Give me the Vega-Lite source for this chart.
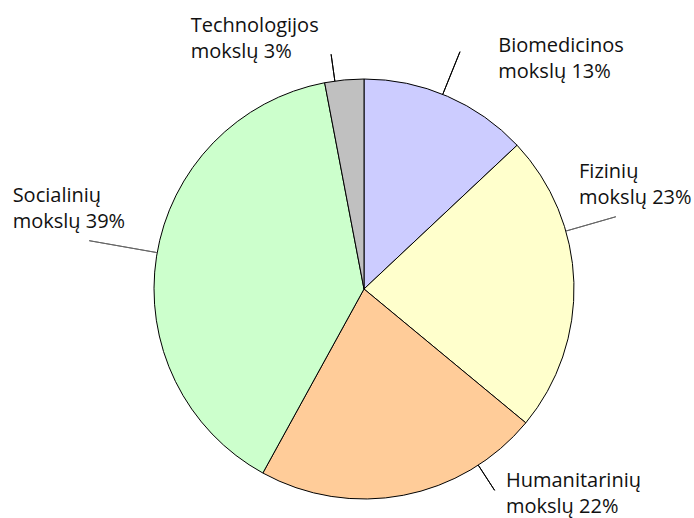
{
  "$schema": "https://vega.github.io/schema/vega-lite/v6.json",
  "width": 420,
  "height": 420,
  "autosize": {"type": "none"},
  "padding": {"left": 154, "top": 79, "right": 120, "bottom": 19},
  "background": "#ffffff",
  "config": {"view": {"stroke": null}},
  "data": {
    "values": [
      {"name": "Biomedicinos", "lines": ["Biomedicinos", "mokslų 13%"], "value": 13, "order": 1},
      {"name": "Fizinių", "lines": ["Fizinių", "mokslų 23%"], "value": 23, "order": 2},
      {"name": "Humanitarinių", "lines": ["Humanitarinių", "mokslų 22%"], "value": 22, "order": 3},
      {"name": "Socialinių", "lines": ["Socialinių", "mokslų 39%"], "value": 39, "order": 4},
      {"name": "Technologijos", "lines": ["Technologijos", "mokslų 3%"], "value": 3, "order": 5}
    ]
  },
  "encoding": {
    "theta": {"field": "value", "type": "quantitative", "stack": true},
    "order": {"field": "order", "type": "quantitative"}
  },
  "layer": [
    {
      "mark": {"type": "arc", "radius": 210, "stroke": "#000000", "strokeWidth": 1},
      "encoding": {
        "color": {
          "field": "name", "type": "nominal", "legend": null,
          "scale": {
            "domain": ["Biomedicinos", "Fizinių", "Humanitarinių", "Socialinių", "Technologijos"],
            "range": ["#ccccff", "#ffffcc", "#ffcc99", "#ccffcc", "#c0c0c0"]
          }
        }
      }
    },
    {
      "mark": {"type": "arc", "radius": 256, "radius2": 210, "padAngle": 3, "thetaOffset": -0.024, "theta2Offset": -0.024, "fillOpacity": 0, "strokeWidth": 1},
      "encoding": {"stroke": {"condition": {"test": "datum.name === 'Biomedicinos'", "value": "#000000"}, "value": "transparent"}}
    },
    {
      "mark": {"type": "arc", "radius": 262, "radius2": 210, "padAngle": 3, "thetaOffset": -0.248, "theta2Offset": -0.248, "fillOpacity": 0, "strokeWidth": 1},
      "encoding": {"stroke": {"condition": {"test": "datum.name === 'Fizinių'", "value": "#666666"}, "value": "transparent"}}
    },
    {
      "mark": {"type": "arc", "radius": 240, "radius2": 210, "padAngle": 3, "thetaOffset": -0.387, "theta2Offset": -0.387, "fillOpacity": 0, "strokeWidth": 1},
      "encoding": {"stroke": {"condition": {"test": "datum.name === 'Humanitarinių'", "value": "#000000"}, "value": "transparent"}}
    },
    {
      "mark": {"type": "arc", "radius": 279, "radius2": 210, "padAngle": 3, "thetaOffset": 0.017, "theta2Offset": 0.017, "fillOpacity": 0, "strokeWidth": 1},
      "encoding": {"stroke": {"condition": {"test": "datum.name === 'Socialinių'", "value": "#666666"}, "value": "transparent"}}
    },
    {
      "mark": {"type": "arc", "radius": 237, "radius2": 210, "padAngle": 3, "thetaOffset": -0.045, "theta2Offset": -0.045, "fillOpacity": 0, "strokeWidth": 1},
      "encoding": {"stroke": {"condition": {"test": "datum.name === 'Technologijos'", "value": "#000000"}, "value": "transparent"}}
    },
    {
      "mark": {"type": "text", "radius": 272, "thetaOffset": 0.108, "align": "left", "baseline": "alphabetic", "font": "Open Sans", "fontSize": 20, "lineHeight": 26, "fill": "#111111"},
      "encoding": {"text": {"condition": {"test": "datum.name === 'Biomedicinos'", "field": "lines"}, "value": ""}}
    },
    {
      "mark": {"type": "text", "radius": 242, "thetaOffset": -0.445, "align": "left", "baseline": "alphabetic", "font": "Open Sans", "fontSize": 20, "lineHeight": 26, "fill": "#111111"},
      "encoding": {"text": {"condition": {"test": "datum.name === 'Fizinių'", "field": "lines"}, "value": ""}}
    },
    {
      "mark": {"type": "text", "radius": 244, "thetaOffset": -0.4325, "align": "left", "baseline": "alphabetic", "font": "Open Sans", "fontSize": 20, "lineHeight": 26, "fill": "#111111"},
      "encoding": {"text": {"condition": {"test": "datum.name === 'Humanitarinių'", "field": "lines"}, "value": ""}}
    },
    {
      "mark": {"type": "text", "radius": 362, "thetaOffset": 0.086, "align": "left", "baseline": "alphabetic", "font": "Open Sans", "fontSize": 20, "lineHeight": 26, "fill": "#111111"},
      "encoding": {"text": {"condition": {"test": "datum.name === 'Socialinių'", "field": "lines"}, "value": ""}}
    },
    {
      "mark": {"type": "text", "radius": 310, "thetaOffset": -0.499, "align": "left", "baseline": "alphabetic", "font": "Open Sans", "fontSize": 20, "lineHeight": 26, "fill": "#111111"},
      "encoding": {"text": {"condition": {"test": "datum.name === 'Technologijos'", "field": "lines"}, "value": ""}}
    }
  ]
}
